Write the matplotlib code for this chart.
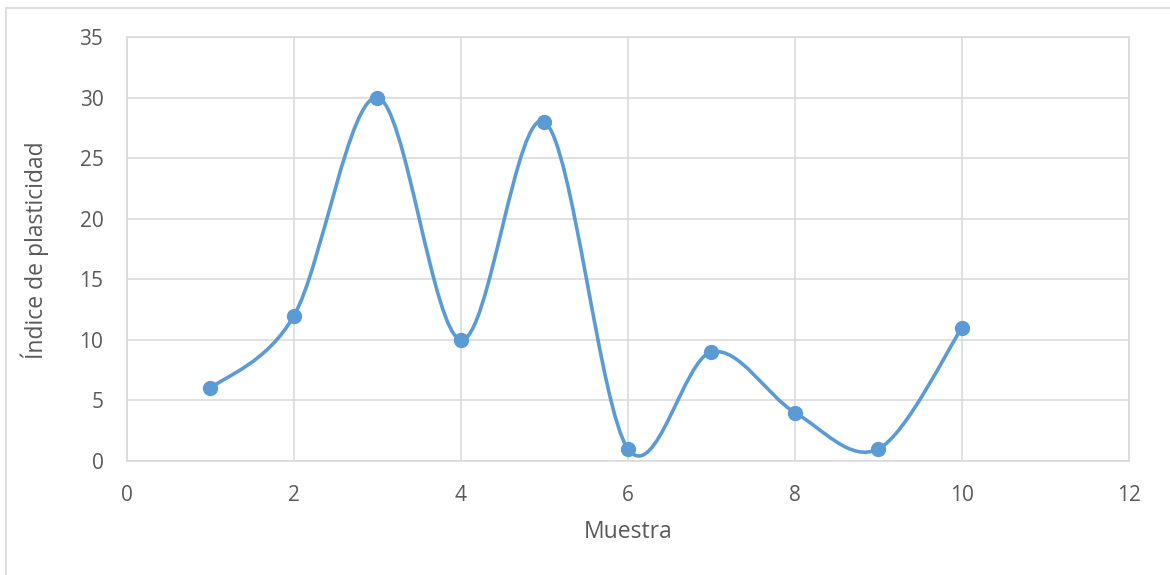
import matplotlib
matplotlib.use("Agg")
import matplotlib.pyplot as plt
from matplotlib.path import Path
from matplotlib.patches import PathPatch
from matplotlib.lines import Line2D

# Data
muestra = [1, 2, 3, 4, 5, 6, 7, 8, 9, 10]
indice_plasticidad = [6, 12, 30, 10, 28, 1, 9, 4, 1, 11]
x_ticks = [0, 2, 4, 6, 8, 10, 12]
y_ticks = [0, 5, 10, 15, 20, 25, 30, 35]

LINE_COLOR = "#5B9BD5"
GRID_COLOR = "#D9D9D9"
TEXT_COLOR = "#595959"

plt.rcParams["font.family"] = ["Open Sans", "DejaVu Sans"]

fig = plt.figure(figsize=(11.7, 5.75), dpi=100)
ax = fig.add_axes([127 / 1170, 1 - 461 / 575, (1129 - 127) / 1170, (461 - 37) / 575])

# Smoothed line (cubic Bezier segments with Catmull-Rom style control points)
n = len(muestra)
pts = list(zip(muestra, indice_plasticidad))
verts = [pts[0]]
codes = [Path.MOVETO]
for i in range(n - 1):
    p0 = pts[i - 1] if i > 0 else pts[i]
    p1 = pts[i]
    p2 = pts[i + 1]
    p3 = pts[i + 2] if i + 2 < n else pts[i + 1]
    c1 = (p1[0] + (p2[0] - p0[0]) / 6, p1[1] + (p2[1] - p0[1]) / 6)
    c2 = (p2[0] - (p3[0] - p1[0]) / 6, p2[1] - (p3[1] - p1[1]) / 6)
    verts += [c1, c2, p2]
    codes += [Path.CURVE4] * 3
ax.add_patch(PathPatch(Path(verts, codes), facecolor="none", edgecolor=LINE_COLOR,
                       lw=2.6, capstyle="round", joinstyle="round", zorder=3))
ax.plot(muestra, indice_plasticidad, linestyle="none", marker="o", markersize=10,
        color=LINE_COLOR, zorder=4)

ax.set_xlim(0, 12)
ax.set_ylim(0, 35)
ax.set_xticks(x_ticks)
ax.set_yticks(y_ticks)
ax.grid(True, color=GRID_COLOR, linewidth=1.1, zorder=0)
ax.set_axisbelow(True)
for s in ax.spines.values():
    s.set_color(GRID_COLOR)
    s.set_linewidth(1.1)
ax.tick_params(axis="both", length=0, labelsize=15, labelcolor=TEXT_COLOR)
ax.tick_params(axis="y", pad=17)
ax.tick_params(axis="x", pad=17)

fig.text(628 / 1170, 1 - 532 / 575, "Muestra", ha="center", va="center",
         fontsize=16.5, color=TEXT_COLOR)
fig.text(35 / 1170, 1 - 250 / 575, "Índice de plasticidad", ha="center", va="center",
         rotation=90, fontsize=16.5, color=TEXT_COLOR)

# Chart area border (top and left edges)
fig.add_artist(Line2D([6 / 1170, 6 / 1170], [0, 1 - 8 / 575], transform=fig.transFigure,
                      color=GRID_COLOR, lw=1.2))
fig.add_artist(Line2D([6 / 1170, 1], [1 - 8 / 575, 1 - 8 / 575], transform=fig.transFigure,
                      color=GRID_COLOR, lw=1.2))

fig.savefig("out.png", dpi=100)
